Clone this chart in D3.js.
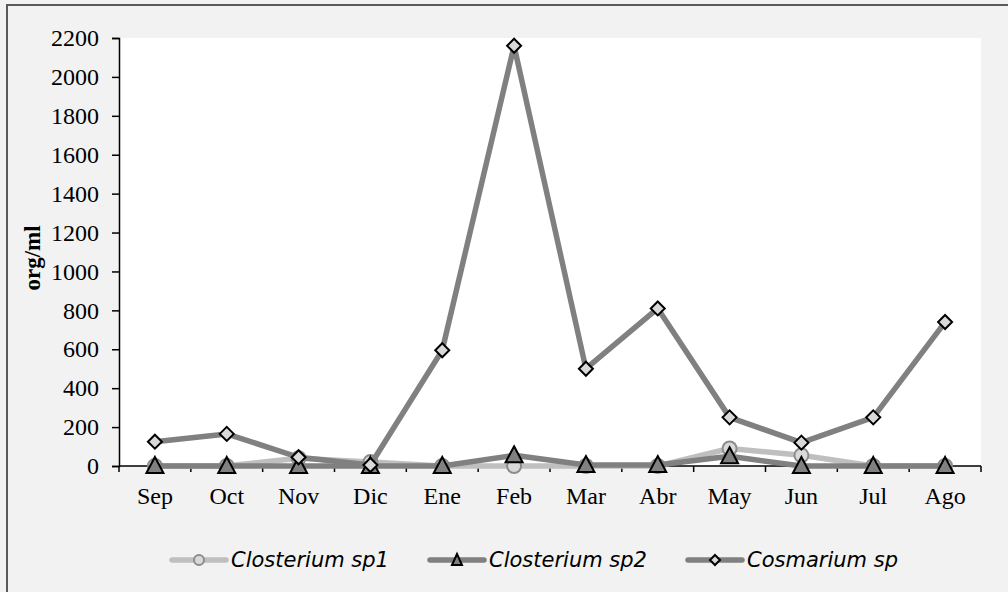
<!DOCTYPE html>
<html>
<head>
<meta charset="utf-8">
<script src="https://cdn.jsdelivr.net/npm/d3@7"></script>
<style>
  html, body { margin: 0; padding: 0; background: #f2f2f2; }
  svg { display: block; }
</style>
</head>
<body>
<div id="chart"></div>
<script>
// Months on the x axis
var months = ["Sep", "Oct", "Nov", "Dic", "Ene", "Feb", "Mar", "Abr", "May", "Jun", "Jul", "Ago"];

// Values (org/ml)
var closterium1 = [0, 0, 40, 20, 0, 0, 0, 0, 90, 55, 0, 0];
var closterium2 = [0, 0, 0, 0, 0, 55, 5, 5, 50, 0, 0, 0];
var cosmarium = [125, 165, 45, 5, 595, 2160, 500, 810, 250, 120, 250, 740];

var yTicks = [0, 200, 400, 600, 800, 1000, 1200, 1400, 1600, 1800, 2000, 2200];
var seriesNames = ["Closterium sp1", "Closterium sp2", "Cosmarium sp"];

var w = 1008, h = 592;
// plot area edges
var plotLeft = 119, plotRight = 981, plotTop = 38, plotBottom = 466;

var svg = d3.select("#chart").append("svg")
    .attr("width", w)
    .attr("height", h);

// chart frame (only left and top edge visible in the picture)
svg.append("rect")
    .attr("x", 7).attr("y", 5)
    .attr("width", w + 20).attr("height", h + 20)
    .attr("fill", "#f2f2f2")
    .attr("stroke", "#595959")
    .attr("stroke-width", 2);

// white plot area
svg.append("rect")
    .attr("x", plotLeft).attr("y", plotTop)
    .attr("width", plotRight - plotLeft).attr("height", plotBottom - plotTop)
    .attr("fill", "#ffffff");

var x = d3.scaleBand()
    .domain(months)
    .range([plotLeft, plotRight]);

var y = d3.scaleLinear()
    .domain([0, 2200])
    .range([plotBottom, plotTop]);

// y axis
var yAxis = svg.append("g")
    .attr("transform", "translate(" + plotLeft + ",0)")
    .call(d3.axisLeft(y).tickValues(yTicks).tickSize(7).tickPadding(13).tickFormat(d3.format("d")));
yAxis.select(".domain").attr("stroke", "#000").attr("stroke-width", 1.5);
yAxis.selectAll(".tick line").attr("stroke", "#000").attr("stroke-width", 1.5);
yAxis.selectAll("text")
    .attr("font-family", "'Liberation Serif', 'Times New Roman', serif")
    .attr("font-size", 24)
    .attr("fill", "#000");

// x axis: ticks at category boundaries, labels at centres
var xAxis = svg.append("g")
    .attr("transform", "translate(0," + plotBottom + ")");
xAxis.append("line")
    .attr("x1", plotLeft).attr("x2", plotRight)
    .attr("stroke", "#000").attr("stroke-width", 1.5);
xAxis.selectAll(".xtick")
    .data(months.concat(["end"]))
    .enter().append("line")
    .attr("x1", function(d, i) { return plotLeft + i * x.bandwidth(); })
    .attr("x2", function(d, i) { return plotLeft + i * x.bandwidth(); })
    .attr("y1", 0).attr("y2", 6)
    .attr("stroke", "#000").attr("stroke-width", 1.5);
xAxis.selectAll(".xlabel")
    .data(months)
    .enter().append("text")
    .attr("x", function(d) { return x(d) + x.bandwidth() / 2; })
    .attr("y", 38)
    .attr("text-anchor", "middle")
    .attr("font-family", "'Liberation Serif', 'Times New Roman', serif")
    .attr("font-size", 24)
    .attr("fill", "#000")
    .text(function(d) { return d; });

// y axis title
svg.append("text")
    .attr("transform", "translate(40,258) rotate(-90)")
    .attr("text-anchor", "middle")
    .attr("font-family", "'Liberation Serif', 'Times New Roman', serif")
    .attr("font-weight", "bold")
    .attr("font-size", 23)
    .attr("fill", "#000")
    .text("org/ml");

var line = d3.line()
    .x(function(d, i) { return x(months[i]) + x.bandwidth() / 2; })
    .y(function(d) { return y(d); });

// marker drawers
function circleMarker(g, px, py) {
    g.append("circle").attr("cx", px).attr("cy", py).attr("r", 7)
        .attr("fill", "#d9d9d9").attr("stroke", "#8c8c8c").attr("stroke-width", 2);
}
function triangleMarker(g, px, py) {
    g.append("path")
        .attr("d", "M" + px + "," + (py - 9) + "L" + (px + 8.5) + "," + (py + 7) + "L" + (px - 8.5) + "," + (py + 7) + "Z")
        .attr("fill", "#808080").attr("stroke", "#000").attr("stroke-width", 2);
}
function diamondMarker(g, px, py) {
    g.append("path")
        .attr("d", "M" + px + "," + (py - 7) + "L" + (px + 7) + "," + py + "L" + px + "," + (py + 7) + "L" + (px - 7) + "," + py + "Z")
        .attr("fill", "#d9d9d9").attr("stroke", "#000").attr("stroke-width", 2);
}

var series = [
    { name: seriesNames[0], values: closterium1, color: "#bfbfbf", marker: circleMarker },
    { name: seriesNames[1], values: closterium2, color: "#808080", marker: triangleMarker },
    { name: seriesNames[2], values: cosmarium, color: "#808080", marker: diamondMarker }
];

series.forEach(function(s) {
    var g = svg.append("g");
    g.append("path")
        .datum(s.values)
        .attr("d", line)
        .attr("fill", "none")
        .attr("stroke", s.color)
        .attr("stroke-width", 5.5)
        .attr("stroke-linejoin", "round");
    s.values.forEach(function(v, i) {
        s.marker(g, x(months[i]) + x.bandwidth() / 2, y(v));
    });
});

// legend
var legendX = [172, 430, 688];
series.forEach(function(s, i) {
    var g = svg.append("g").attr("transform", "translate(" + legendX[i] + ",560)");
    g.append("line")
        .attr("x1", 0).attr("x2", 54)
        .attr("stroke", s.color).attr("stroke-width", 5.5)
        .attr("stroke-linecap", "round");
    if (i === 0) {
        g.append("circle").attr("cx", 27).attr("cy", 0).attr("r", 5)
            .attr("fill", "#d9d9d9").attr("stroke", "#8c8c8c").attr("stroke-width", 2);
    } else if (i === 1) {
        g.append("path").attr("d", "M27,-6L32,5L22,5Z")
            .attr("fill", "#808080").attr("stroke", "#000").attr("stroke-width", 2);
    } else {
        g.append("path").attr("d", "M27,-5L32,0L27,5L22,0Z")
            .attr("fill", "#d9d9d9").attr("stroke", "#000").attr("stroke-width", 2);
    }
    g.append("text")
        .attr("x", 59).attr("y", 7)
        .attr("font-family", "'DejaVu Sans', Verdana, sans-serif")
        .attr("font-style", "italic")
        .attr("font-size", 21)
        .attr("fill", "#000")
        .text(s.name);
});
</script>
</body>
</html>
